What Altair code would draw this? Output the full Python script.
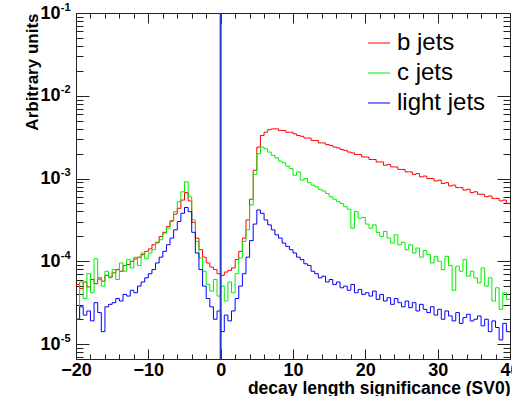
import altair as alt
import pandas as pd

# ---------------- data (log10 of bin contents, bins of width 0.5 from -20 to 40) ----------------
x_start = -20.0
bin_width = 0.5
series_names = ["b jets", "c jets", "light jets"]
series_colors = ["#ff0000", "#00ee00", "#0000ff"]

b_jets_log10 = [
    -4.28, -4.33, -4.25, -4.31, -4.22, -4.27, -4.20, -4.24, -4.17, -4.19,
    -4.14, -4.10, -4.12, -4.05, -4.04, -4.00, -3.97, -3.95, -3.92, -3.88,
    -3.85, -3.80, -3.77, -3.70, -3.65, -3.58, -3.51, -3.43, -3.36, -3.26,
    -3.17, -3.27, -3.53, -3.72, -3.86, -3.95, -4.02, -4.07, -4.10, -4.15,
    -4.17, -4.13, -4.11, -4.08, -3.98, -3.88, -3.72, -3.50, -3.25, -2.90,
    -2.62, -2.48, -2.44, -2.41, -2.40, -2.40, -2.42, -2.42, -2.44, -2.44,
    -2.46, -2.48, -2.49, -2.51, -2.51, -2.54, -2.54, -2.57, -2.57, -2.59,
    -2.60, -2.62, -2.63, -2.65, -2.66, -2.68, -2.69, -2.71, -2.71, -2.74,
    -2.74, -2.77, -2.77, -2.80, -2.80, -2.84, -2.83, -2.86, -2.86, -2.89,
    -2.89, -2.92, -2.92, -2.95, -2.94, -2.98, -2.97, -3.00, -3.00, -3.03,
    -3.02, -3.06, -3.05, -3.09, -3.08, -3.11, -3.11, -3.14, -3.13, -3.17,
    -3.16, -3.19, -3.19, -3.22, -3.21, -3.24, -3.24, -3.27, -3.26, -3.30,
]

c_jets_log10 = [
    -4.70, -4.25, -4.45, -4.15, -4.38, -3.97, -4.22, -4.30, -4.12, -4.20,
    -4.10, -4.22, -4.02, -4.12, -3.98, -4.08, -3.95, -4.05, -3.90, -3.97,
    -3.90, -3.86, -3.78, -3.74, -3.66, -3.60, -3.52, -3.40, -3.28, -3.16,
    -3.04, -3.22, -3.50, -3.76, -3.96, -4.12, -4.28, -4.36, -4.22, -4.42,
    -4.30, -4.48, -4.25, -4.38, -4.15, -3.96, -3.76, -3.62, -3.32, -2.95,
    -2.70, -2.62, -2.64, -2.68, -2.72, -2.75, -2.79, -2.81, -2.85, -2.88,
    -2.96, -2.92, -3.02, -3.00, -3.05, -3.08, -3.10, -3.13, -3.15, -3.18,
    -3.22, -3.25, -3.28, -3.30, -3.34, -3.37, -3.60, -3.40, -3.48, -3.47,
    -3.55, -3.60, -3.56, -3.65, -3.70, -3.64, -3.72, -3.78, -3.68, -3.80,
    -3.77, -3.86, -3.80, -3.90, -3.84, -3.95, -3.87, -3.92, -4.02, -3.94,
    -4.00, -4.10, -3.94, -4.05, -4.35, -4.06, -4.12, -3.98, -4.18, -4.12,
    -4.20, -4.26, -4.08, -4.30, -4.20, -4.48, -4.32, -4.58, -4.38, -4.46,
]

light_jets_log10 = [
    -4.70, -4.55, -4.65, -4.60, -4.72, -4.50, -4.62, -4.85, -4.55, -4.52,
    -4.50, -4.45, -4.48, -4.40, -4.42, -4.35, -4.38, -4.30, -4.25, -4.20,
    -4.15, -4.10, -4.02, -3.95, -3.88, -3.80, -3.72, -3.62, -3.52, -3.42,
    -3.35, -3.40, -3.65, -3.90, -4.10, -4.30, -4.45, -4.55, -4.70, -4.60,
    -4.85, -4.65, -4.72, -4.60, -4.45, -4.30, -4.15, -3.95, -3.75, -3.55,
    -3.38, -3.42, -3.50, -3.56, -3.62, -3.68, -3.72, -3.78, -3.82, -3.86,
    -3.90, -3.95, -3.98, -4.03, -4.05, -4.12, -4.15, -4.20, -4.18, -4.25,
    -4.22, -4.28, -4.25, -4.32, -4.30, -4.35, -4.28, -4.38, -4.34, -4.40,
    -4.38, -4.42, -4.36, -4.46, -4.40, -4.48, -4.44, -4.52, -4.45, -4.50,
    -4.55, -4.48, -4.56, -4.50, -4.60, -4.52, -4.58, -4.62, -4.55, -4.65,
    -4.58, -4.70, -4.60, -4.66, -4.72, -4.62, -4.75, -4.68, -4.64, -4.72,
    -4.70, -4.66, -4.78, -4.70, -4.85, -4.72, -4.80, -4.95, -4.75, -4.85,
]

x_major = [-20, -10, 0, 10, 20, 30, 40]
x_minor = [-18, -16, -14, -12, -8, -6, -4, -2, 2, 4, 6, 8, 12, 14, 16, 18,
           22, 24, 26, 28, 32, 34, 36, 38]
y_major = [1e-5, 1e-4, 1e-3, 1e-2, 1e-1]
y_minor = [7e-6, 8e-6, 9e-6,
           2e-5, 3e-5, 4e-5, 5e-5, 6e-5, 7e-5, 8e-5, 9e-5,
           2e-4, 3e-4, 4e-4, 5e-4, 6e-4, 7e-4, 8e-4, 9e-4,
           2e-3, 3e-3, 4e-3, 5e-3, 6e-3, 7e-3, 8e-3, 9e-3,
           2e-2, 3e-2, 4e-2, 5e-2, 6e-2, 7e-2, 8e-2, 9e-2]

# ---------------- table ----------------
rows = []
for name, logs in zip(series_names, [b_jets_log10, c_jets_log10, light_jets_log10]):
    for i, lv in enumerate(logs):
        rows.append({"x": x_start + i * bin_width, "y": 10 ** lv, "series": name})
    rows.append({"x": x_start + len(logs) * bin_width, "y": 10 ** logs[-1], "series": name})
df = pd.DataFrame(rows)
dummy = pd.DataFrame({"x": [0.0], "y": [1e-3]})

W, H = 434, 346
FONT = "Liberation Sans"
AX = "#222222"

xscale = alt.Scale(domain=[-20, 40], nice=False, zero=False)
yscale = alt.Scale(type="log", domain=[6.6e-6, 0.1], nice=False)


def tick_axis(orient, offset, values, size):
    return alt.Axis(orient=orient, offset=offset, values=values, tickSize=size,
                    ticks=True, labels=False, domain=False, grid=False, title=None,
                    tickColor=AX, tickWidth=1)


lines = alt.Chart(df).mark_line(interpolate="step-after", strokeWidth=1, clip=True).encode(
    x=alt.X("x:Q", scale=xscale, axis=alt.Axis(
        orient="bottom", values=x_major, ticks=False, tickSize=0, domain=False, grid=False,
        labelFont=FONT, labelFontWeight="bold", labelFontSize=18, labelPadding=2,
        labelColor="black", labelFlush=False, labelOverlap=False,
        title="decay length significance (SV0)", titleFont=FONT, titleFontSize=17.5,
        titleFontWeight="bold", titleColor="black", titleAnchor="end",
        titleBaseline="alphabetic", titleY=34)),
    y=alt.Y("y:Q", scale=yscale, axis=alt.Axis(
        orient="left", values=y_major, ticks=False, tickSize=0, domain=False, grid=False,
        labelExpr="'10'", labelFont=FONT, labelFontWeight="bold", labelFontSize=18,
        labelPadding=16, labelColor="black", labelOverlap=False, labelFlush=False,
        title="Arbitrary units", titleFont=FONT, titleFontSize=17, titleFontWeight="bold",
        titleColor="black", titleAnchor="end", titleX=-35)),
    color=alt.Color("series:N", scale=alt.Scale(domain=series_names, range=series_colors),
                    legend=alt.Legend(title=None, orient="none", legendX=291, legendY=18,
                                      symbolType="stroke", symbolSize=484, symbolStrokeWidth=1,
                                      labelFont=FONT, labelFontSize=24, labelColor="black",
                                      labelOffset=6, rowPadding=6, padding=0)),
)

expo = alt.Chart(dummy).mark_point(opacity=0).encode(
    x=alt.X("x:Q", scale=xscale, axis=None),
    y=alt.Y("y:Q", scale=yscale, axis=alt.Axis(
        orient="left", values=y_major, ticks=False, tickSize=0, domain=False, grid=False,
        labelExpr="'-' + (-round(log(datum.value) / LN10))", labelFont=FONT,
        labelFontWeight="bold", labelFontSize=11, labelPadding=6, labelOffset=-6,
        labelColor="black", labelOverlap=False, labelFlush=False, title=None)),
)

t1 = alt.Chart(dummy).mark_point(opacity=0).encode(
    x=alt.X("x:Q", scale=xscale, axis=tick_axis("top", -H, x_major, 10)),
    y=alt.Y("y:Q", scale=yscale, axis=tick_axis("right", -W, y_major, 13)),
)
t2 = alt.Chart(dummy).mark_point(opacity=0).encode(
    x=alt.X("x:Q", scale=xscale, axis=tick_axis("top", -H, x_minor, 5)),
    y=alt.Y("y:Q", scale=yscale, axis=tick_axis("right", -W, y_minor, 7)),
)
t3 = alt.Chart(dummy).mark_point(opacity=0).encode(
    x=alt.X("x:Q", scale=xscale, axis=tick_axis("bottom", -H, x_major, 10)),
    y=alt.Y("y:Q", scale=yscale, axis=tick_axis("left", -W, y_major, 13)),
)
t4 = alt.Chart(dummy).mark_point(opacity=0).encode(
    x=alt.X("x:Q", scale=xscale, axis=tick_axis("bottom", -H, x_minor, 5)),
    y=alt.Y("y:Q", scale=yscale, axis=tick_axis("left", -W, y_minor, 7)),
)

zero_line = alt.Chart(dummy).mark_rule(color="#1f3cc4", strokeWidth=2).encode(
    x=alt.X("x:Q", scale=xscale, axis=None),
)

chart = alt.layer(t1, t2, t3, t4, expo, lines, zero_line).resolve_axis(
    x="independent", y="independent"
).properties(
    width=W, height=H,
    autosize=alt.AutoSizeParams(type="none"),
    padding={"left": 76, "top": 13, "right": 2, "bottom": 37},
    background="white",
).configure_view(stroke=AX, strokeWidth=1)

chart.save("out.html", embed_options={"renderer": "svg", "actions": False})
